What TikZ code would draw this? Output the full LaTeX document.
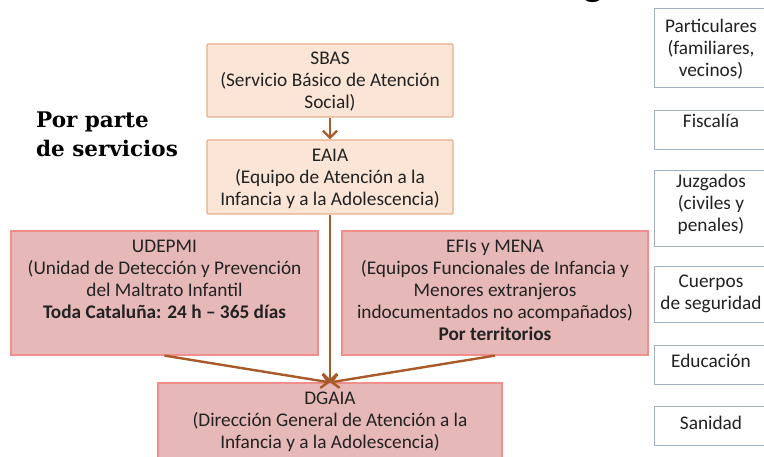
\documentclass[tikz,border=0pt]{standalone}
\usepackage{fontspec}
\setmainfont{Carlito}
\newfontfamily\sidefont{DejaVu Serif}
\usetikzlibrary{arrows.meta}
\definecolor{peachfill}{HTML}{FBE5D6}
\definecolor{peachline}{HTML}{E6AE88}
\definecolor{rosefill}{HTML}{E6B9B8}
\definecolor{roseline}{HTML}{F08E8C}
\definecolor{sideline}{HTML}{9FB0C2}
\definecolor{arrowcol}{HTML}{A85A2A}
\definecolor{txt}{HTML}{222222}
\tikzset{
  boxtext/.style={font=\fontsize{19.3}{22}\selectfont, text=txt, align=center, inner sep=0pt},
  peachbox/.style={draw=peachline, fill=peachfill, line width=1.2pt, rounded corners=1pt, inner sep=0pt},
  rosebox/.style={draw=roseline, fill=rosefill, line width=1.2pt, inner sep=0pt},
  sidebox/.style={draw=sideline, line width=1pt, inner sep=0pt},
  conn/.style={draw=arrowcol, line width=2.4pt, -{Straight Barb[length=7pt,width=14pt]}},
}
\begin{document}
\begin{tikzpicture}[x=1pt,y=-1pt]
\useasboundingbox (0,0) rectangle (764,457);
\clip (0,0) rectangle (764,457);
\fill[white] (0,0) rectangle (764,457);

% partial title glyph
\node[font=\fontsize{42}{42}\selectfont\bfseries, text=black, anchor=base, inner sep=0pt] (title) at (593,-4) {g};

% side heading
\node[font=\sidefont\fontsize{21.5}{29}\selectfont\bfseries, text=black, align=left, anchor=north west, inner sep=0pt] (porparte) at (36,112) {Por parte\\de servicios};

% top boxes
\node[peachbox, minimum width=246pt, minimum height=73pt] (sbas) at (330,80.5) {};
\node[boxtext] (sbastxt) at (330,82) {SBAS\\(Servicio Básico de Atención\\Social)};
\node[peachbox, minimum width=246pt, minimum height=74pt] (eaia) at (330,177) {};
\node[boxtext] (eaiatxt) at (330,178.5) {EAIA\\(Equipo de Atención a la\\Infancia y a la Adolescencia)};

% middle boxes
\node[rosebox, minimum width=307pt, minimum height=124pt] (udepmi) at (164.5,293) {};
\node[boxtext, anchor=north] (udepmitxt) at ([yshift=-10pt]udepmi.north) {UDEPMI\\(Unidad de Detección y Prevención\\del Maltrato Infantil\\\textbf{Toda Cataluña: 24 h – 365 días}};
\node[rosebox, minimum width=306pt, minimum height=124pt] (efis) at (495,293) {};
\node[boxtext, anchor=north] (efistxt) at ([yshift=-10pt]efis.north) {EFIs y MENA\\(Equipos Funcionales de Infancia y\\Menores extranjeros\\indocumentados no acompañados)\\\textbf{Por territorios}};

% bottom box
\node[rosebox, minimum width=344pt, minimum height=100pt] (dgaia) at (330,433) {};
\node[boxtext, anchor=north] (dgaiatxt) at ([yshift=-9.5pt]dgaia.north) {DGAIA\\(Dirección General de Atención a la\\Infancia y a la Adolescencia)};

% connectors
\draw[conn] (sbas.south) -- (eaia.north);
\draw[conn] (eaia.south) -- (dgaia.north);
\draw[conn] (udepmi.south) -- (dgaia.north);
\draw[conn] (efis.south) -- (dgaia.north);

% right column
\node[sidebox, minimum width=114pt, minimum height=79pt] (part) at (711,48.5) {};
\node[boxtext] (parttxt) at (711,49.5) {Particulares\\(familiares,\\vecinos)};
\node[sidebox, minimum width=114pt, minimum height=39pt] (fisc) at (711,130.5) {};
\node[boxtext] (fisctxt) at (711,121) {Fiscalía};
\node[sidebox, minimum width=114pt, minimum height=76pt] (juzg) at (711,209) {};
\node[boxtext] (juzgtxt) at (711,204) {Juzgados\\(civiles y\\penales)};
\node[sidebox, minimum width=114pt, minimum height=56pt] (cuer) at (711,295) {};
\node[boxtext] (cuertxt) at (711,294) {Cuerpos\\de seguridad};
\node[sidebox, minimum width=114pt, minimum height=39pt] (educ) at (711,365.5) {};
\node[boxtext] (eductxt) at (711,361) {Educación};
\node[sidebox, minimum width=114pt, minimum height=38pt] (sani) at (711,426) {};
\node[boxtext] (sanitxt) at (711,422.5) {Sanidad};
\end{tikzpicture}
\end{document}
